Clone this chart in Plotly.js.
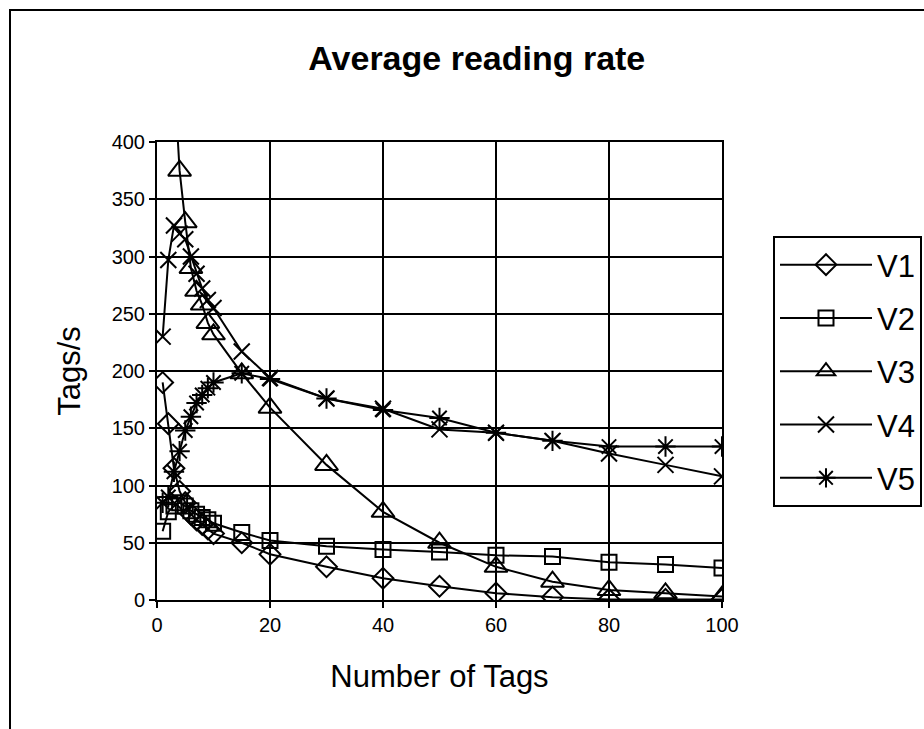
<!DOCTYPE html>
<html>
<head>
<meta charset="utf-8">
<script src="https://cdn.plot.ly/plotly-3.0.1.min.js"></script>
<style>
  html, body { margin: 0; padding: 0; background: #fff; overflow: hidden; }
  #frame { position: absolute; left: 9px; top: 9px; width: 1200px; height: 1200px; border: 2px solid #000; }
  #chart { position: absolute; left: 0; top: 0; width: 924px; height: 729px; }
</style>
</head>
<body>
<div id="frame"></div>
<div id="chart"></div>
<script>
// Number of tags (x) for all series
const tags = [1, 2, 3, 4, 5, 6, 7, 8, 9, 10, 15, 20, 30, 40, 50, 60, 70, 80, 90, 100];
// Average reading rate (tags/s)
const v1 = [190, 154, 115, 95, 85, 75, 70, 66, 62, 58, 50, 40, 29, 19, 12, 6, 2.5, 0.5, 0.5, 0.5];
const v2 = [60, 77, 82, 85, 82, 78, 75, 72, 70, 67, 59, 52, 47, 44, 42, 39, 38, 33, 31, 28];
const v3 = [null, null, 460, 375, 330, 290, 270, 258, 242, 232, 198, 168, 118, 77, 50, 29, 16, 8.7, 5.8, 3];
const v4 = [230, 297, 327, 320, 315, 300, 285, 272, 262, 255, 217, 194, 176, 167, 149, 146, 139, 128, 118, 108];
const v5 = [85, 90, 112, 130, 148, 160, 172, 179, 185, 190, 198, 193, 176, 166, 159, 146, 139, 134, 134, 134];

const seriesNames = ['V1', 'V2', 'V3', 'V4', 'V5'];
const seriesValues = [v1, v2, v3, v4, v5];
const symbols = ['diamond-open', 'square-open', 'triangle-up-open', 'x-thin-open', 'asterisk-open'];
const sizes = [16, 15, 20, 16, 17];

const traces = seriesNames.map((name, i) => ({
  type: 'scatter',
  mode: 'lines+markers',
  name: name,
  x: tags,
  y: seriesValues[i],
  legendgroup: name,
  line: { color: '#000', width: 2 },
  marker: { symbol: symbols[i], size: sizes[i], color: '#000', line: { color: '#000', width: 2 } },
  connectgaps: false,
  cliponaxis: true
}));

const fontFam = '"Liberation Sans", Arial, Helvetica, sans-serif';
const layout = {
  width: 924, height: 729,
  paper_bgcolor: 'rgba(0,0,0,0)',
  plot_bgcolor: '#fff',
  margin: { l: 157, r: 202, t: 142, b: 129, autoexpand: false },
  font: { family: fontFam, color: '#000' },
  title: {
    text: '<b>Average reading rate</b>',
    font: { size: 34, family: fontFam, color: '#000' },
    x: 0.516, xref: 'container', xanchor: 'center',
    y: 1 - 58 / 729, yref: 'container', yanchor: 'middle'
  },
  xaxis: {
    range: [0, 100], tickmode: 'array', tickvals: [0, 20, 40, 60, 80, 100],
    showgrid: true, gridcolor: '#000', gridwidth: 2,
    showline: true, linecolor: '#000', linewidth: 2, mirror: true,
    ticks: 'outside', ticklen: 6, tickwidth: 2, tickcolor: '#000',
    tickfont: { size: 20 }, zeroline: false,
    title: { text: 'Number of Tags', font: { size: 31 }, standoff: 30 }
  },
  yaxis: {
    range: [0, 400], tickmode: 'array', tickvals: [0, 50, 100, 150, 200, 250, 300, 350, 400],
    showgrid: true, gridcolor: '#000', gridwidth: 2,
    showline: true, linecolor: '#000', linewidth: 2, mirror: true,
    ticks: 'outside', ticklen: 6, tickwidth: 2, tickcolor: '#000',
    tickfont: { size: 20 }, zeroline: false,
    title: { text: 'Tags/s', font: { size: 31 }, standoff: 22 }
  },
  legend: {
    x: (773 - 157) / 565, xanchor: 'left',
    y: (600 - 236) / 458, yanchor: 'top',
    bgcolor: '#fff', bordercolor: '#000', borderwidth: 2,
    font: { size: 31, family: fontFam, color: '#000' },
    traceorder: 'grouped', tracegroupgap: 10,
    itemwidth: 92, entrywidth: 200
  },
  showlegend: true
};

Plotly.newPlot('chart', traces, layout, { staticPlot: true, displayModeBar: false });
</script>
</body>
</html>
